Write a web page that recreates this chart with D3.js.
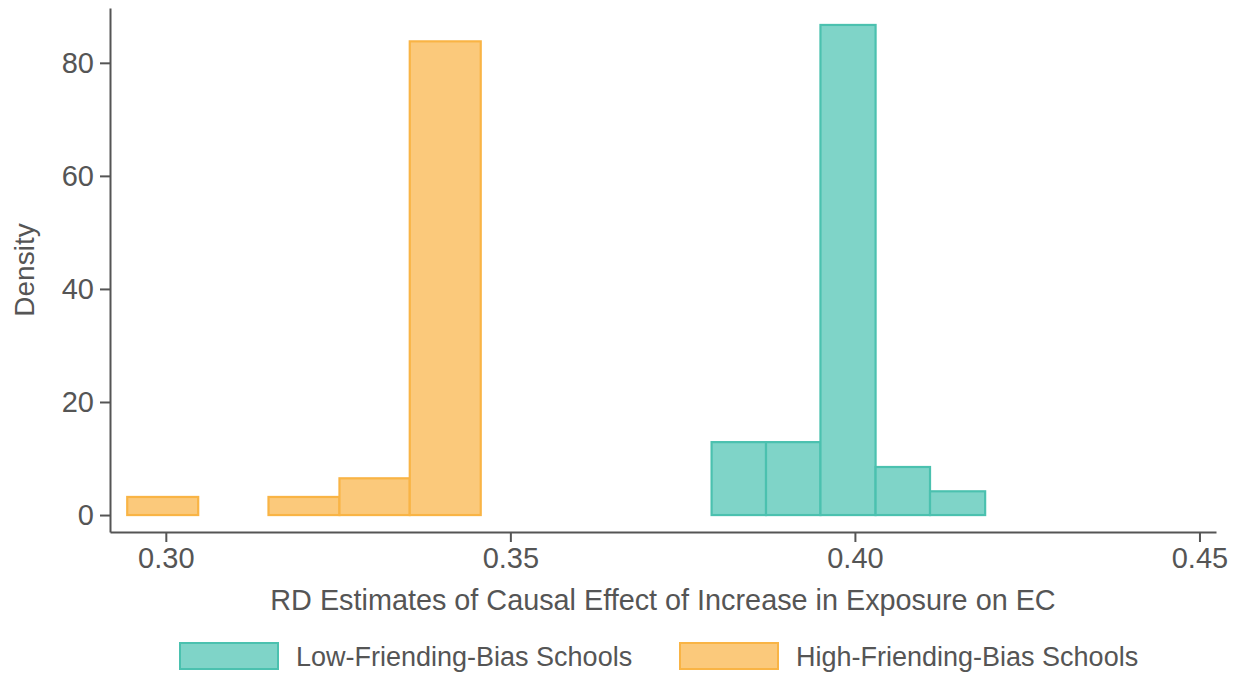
<!DOCTYPE html>
<html>
<head>
<meta charset="utf-8">
<script src="https://cdn.jsdelivr.net/npm/d3@7"></script>
<style>
  body { margin: 0; background: #fff; }
  svg text { font-family: "Liberation Sans", Arial, sans-serif; fill: #555; }
</style>
</head>
<body>
<svg id="chart" width="1239" height="674"></svg>
<script>
// histogram bin edges and densities
var lowEdges = [0.3792, 0.3871, 0.3950, 0.4030, 0.4109, 0.4189];
var lowDensity = [12.9, 12.9, 86.7, 8.5, 4.2];
var highEdges = [0.2944, 0.3047, 0.3149, 0.3252, 0.3354, 0.3457];
var highDensity = [3.2, 0, 3.2, 6.5, 83.8];

var xTicks = [0.30, 0.35, 0.40, 0.45];
var yTicks = [0, 20, 40, 60, 80];
var seriesNames = ['Low-Friending-Bias Schools', 'High-Friending-Bias Schools'];

var fills = ['#7fd4c8', '#fbc97b'],
    strokes = ['#4bc1af', '#f9b445'];

var svg = d3.select('#chart');

var x = d3.scaleLinear().domain([0.2919, 0.4524]).range([110, 1216]);
var y = d3.scaleLinear().domain([-3, 89.7]).range([532, 8]);

// turn edges + densities into bin objects, skip empty bins
function bins(edges, dens) {
    var out = [];
    for (var i = 0; i < dens.length; i++) {
        if (dens[i] > 0) out.push({x0: edges[i], x1: edges[i + 1], d: dens[i]});
    }
    return out;
}

var series = [bins(lowEdges, lowDensity), bins(highEdges, highDensity)];

series.forEach(function(s, k) {
    svg.append('g').selectAll('rect')
        .data(s)
        .enter().append('rect')
            .attr('x', function(d) { return x(d.x0); })
            .attr('y', function(d) { return y(d.d); })
            .attr('width', function(d) { return x(d.x1) - x(d.x0); })
            .attr('height', function(d) { return y(0) - y(d.d); })
            .attr('fill', fills[k])
            .attr('stroke', strokes[k])
            .attr('stroke-width', 2.2);
});

var xAxis = svg.append('g')
    .attr('transform', 'translate(0,532)')
    .call(d3.axisBottom(x).tickValues(xTicks).tickFormat(d3.format('.2f')).tickSize(10).tickSizeOuter(0).tickPadding(5));

var yAxis = svg.append('g')
    .attr('transform', 'translate(110,0)')
    .call(d3.axisLeft(y).tickValues(yTicks).tickSize(10).tickSizeOuter(0).tickPadding(6));

[xAxis, yAxis].forEach(function(a) {
    a.select('.domain').attr('stroke', '#555').attr('stroke-width', 2);
    a.selectAll('.tick line').attr('stroke', '#555').attr('stroke-width', 2);
    a.selectAll('.tick text').attr('fill', '#555').style('font-size', '29px');
});

svg.append('text')
    .attr('x', 663)
    .attr('y', 610)
    .attr('text-anchor', 'middle')
    .style('font-size', '28.8px')
    .text('RD Estimates of Causal Effect of Increase in Exposure on EC');

svg.append('text')
    .attr('transform', 'translate(34,270) rotate(-90)')
    .attr('text-anchor', 'middle')
    .style('font-size', '28px')
    .text('Density');

// legend
var legX = [180, 680];
seriesNames.forEach(function(name, k) {
    svg.append('rect')
        .attr('x', legX[k]).attr('y', 643)
        .attr('width', 98).attr('height', 26)
        .attr('fill', fills[k])
        .attr('stroke', strokes[k])
        .attr('stroke-width', 2);
    svg.append('text')
        .attr('x', legX[k] + 116).attr('y', 666)
        .style('font-size', '27px')
        .text(name);
});
</script>
</body>
</html>
